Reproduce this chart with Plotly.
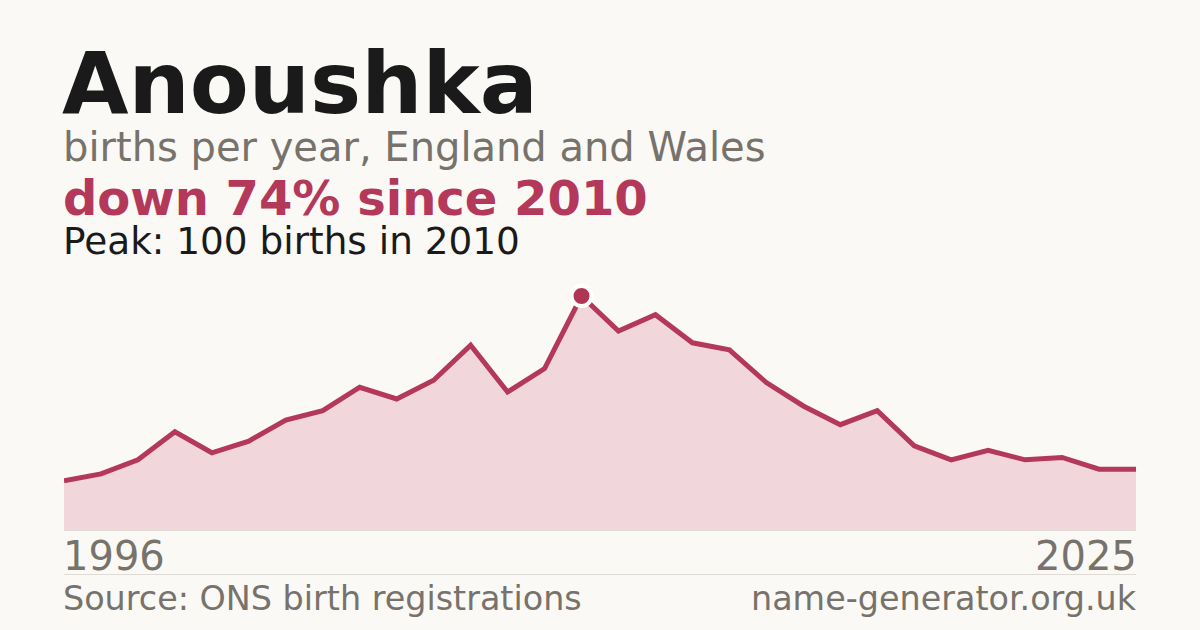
import plotly.graph_objects as go

# ---- data ----
years = list(range(1996, 2026))
births = [21, 24, 30, 42, 33, 38, 47, 51, 61, 56, 64, 79, 59, 69, 100,
          85, 92, 80, 77, 63, 53, 45, 51, 36, 30, 34, 30, 31, 26, 26]
peak_year = [2010]
peak_value = [100]
title_text = "Anoushka"
subtitle_text = "births per year, England and Wales"
change_text = "down 74% since 2010"
peak_text = "Peak: 100 births in 2010"
first_label = "1996"
last_label = "2025"
source_text = "Source: ONS birth registrations"
site_text = "name-generator.org.uk"

# ---- style ----
BG = "#faf9f5"
DARK = "#1a1a1a"
GREY = "#77726b"
RED = "#b3385a"
FILL = "#f1d6dc"
RULE = "#e0dcd5"
FONT = "DejaVu Sans"

W, H = 1200, 630
L, R = 64, 1136
TOP, BOT = 296, 530


def py(p):
    return (BOT - p) / (BOT - TOP)


def px(p):
    return (p - L) / (R - L)


fig = go.Figure()
fig.add_trace(go.Scatter(
    x=years, y=births, mode="lines",
    line=dict(color=RED, width=5, shape="linear"),
    fill="tozeroy", fillcolor=FILL, hoverinfo="skip",
))
fig.add_trace(go.Scatter(
    x=peak_year, y=peak_value, mode="markers",
    marker=dict(size=20, color="#b03553", line=dict(color="white", width=4)),
    cliponaxis=False, hoverinfo="skip",
))

fig.update_layout(
    width=W, height=H,
    paper_bgcolor=BG, plot_bgcolor=BG,
    margin=dict(l=L, r=W - R, t=TOP, b=H - BOT, pad=0),
    showlegend=False,
    xaxis=dict(range=[years[0], years[-1]], visible=False, fixedrange=True),
    yaxis=dict(range=[0, max(births)], visible=False, fixedrange=True),
    font=dict(family=FONT),
)


def ann(text, x, y, size, color, bold=False, xanchor="left"):
    fig.add_annotation(
        text=f"<b>{text}</b>" if bold else text,
        x=px(x), y=py(y), xref="paper", yref="paper",
        xanchor=xanchor, yanchor="middle", showarrow=False,
        font=dict(family=FONT, size=size, color=color),
    )


ann(title_text, 60, 113 - 0.346 * 86, 86, DARK, bold=True)
ann(subtitle_text, 61, 161 - 0.346 * 40, 40, GREY)
ann(change_text, 61, 215 - 0.346 * 48, 48, RED, bold=True)
ann(peak_text, 61, 254 - 0.346 * 37.4, 37.4, DARK)
ann(first_label, 61, 570 - 0.346 * 40, 40, GREY)
ann(last_label, 1139, 570 - 0.346 * 40, 40, GREY, xanchor="right")
ann(source_text, 61, 610 - 0.346 * 33.4, 33.4, GREY)
ann(site_text, 1139, 610 - 0.346 * 33.4, 33.4, GREY, xanchor="right")

for yy in (BOT + 0.5, 574.5):
    fig.add_shape(type="line", xref="paper", yref="paper",
                  x0=0, x1=1, y0=py(yy), y1=py(yy),
                  line=dict(color=RULE, width=1), layer="below")

fig.write_html(
    "out.html",
    config={"displayModeBar": False},
    post_script="document.body.style.margin='0';document.body.style.background='" + BG + "';",
)
